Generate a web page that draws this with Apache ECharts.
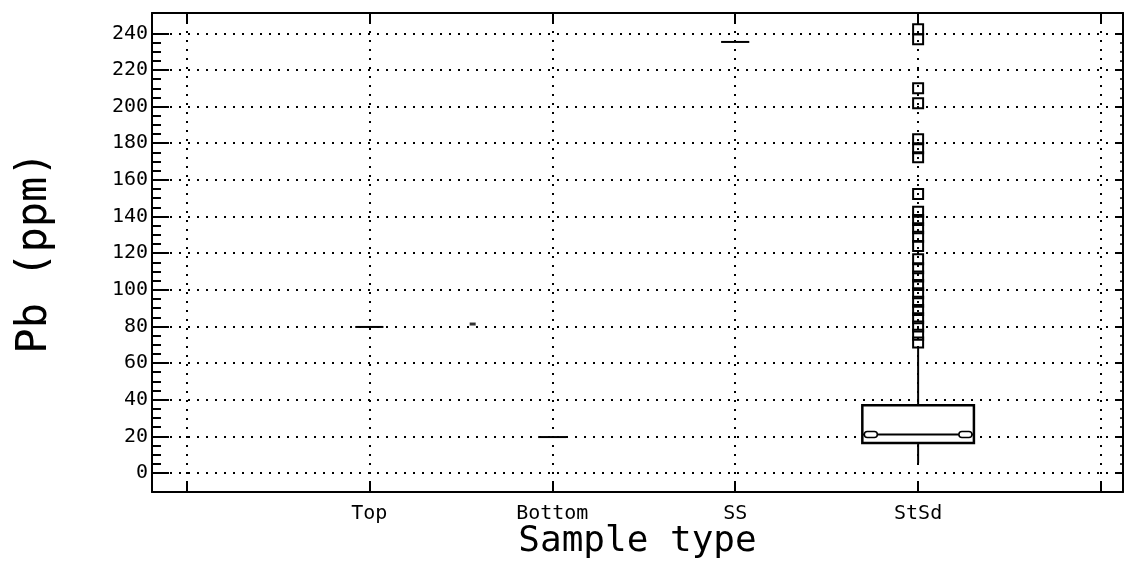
<!DOCTYPE html>
<html>
<head>
<meta charset="utf-8">
<script src="https://cdn.jsdelivr.net/npm/echarts@6/dist/echarts.min.js"></script>
<style>html,body{margin:0;padding:0;background:#fff}#c{width:1127px;height:564px}</style>
</head>
<body>
<div id="c"></div>
<script>
// ---- data ----
const categories = ['Top', 'Bottom', 'SS', 'StSd'];
// categories with a single value (drawn as a short median line)
const singleCategories = ['Top', 'Bottom', 'SS'];
const singleValues = [79.7, 19.6, 235.3];
// StSd box: lower whisker, Q1, median, Q3, upper whisker
const stsdStats = [5.4, 16.3, 21.0, 37.0, 68.5];
// StSd outliers
const stsdOutliers = [71.2, 75.4, 80.0, 84.5, 89.0, 93.5, 98.1, 102.6, 107.2, 111.7, 116.6,
  123.9, 129.0, 133.6, 138.1, 142.6, 152.3, 172.4, 177.3, 182.2, 201.8, 210.0, 236.8, 242.2];
// small stray mark between Top and Bottom
const strayMarks = [[1.565, 81.3]];
// axis ticks
const yTickLabels = [0, 20, 40, 60, 80, 100, 120, 140, 160, 180, 200, 220, 240];
const xTickPositions = [0, 1, 2, 3, 4, 5];

const yMinor = [];
for (let v = 0; v <= 240; v += 5) yMinor.push(v);
const catX = name => categories.indexOf(name) + 1;

const FONT = 'DejaVu Sans Mono';
const dotted = { color: '#000', width: 2, type: [2, 7] };
const yMin = -10.4, yMax = 251.1, xMin = -0.188, xMax = 5.12;

const chart = echarts.init(document.getElementById('c'), null, { renderer: 'canvas' });
chart.setOption({
  backgroundColor: '#fff',
  animation: false,
  grid: { left: 152, right: 4, top: 13, bottom: 72, show: false, containLabel: false, outerBoundsMode: 'none' },
  xAxis: [
    {
      type: 'value', position: 'bottom', min: xMin, max: xMax,
      axisLine: { show: true, onZero: false, lineStyle: { color: '#000', width: 2 } },
      axisTick: { show: true, inside: true, length: 10, customValues: xTickPositions, lineStyle: { color: '#000', width: 2 } },
      axisLabel: {
        show: true, customValues: categories.map((c, i) => i + 1), margin: 12,
        color: '#000', fontFamily: FONT, fontSize: 20,
        formatter: v => categories[Math.round(v) - 1] || ''
      },
      splitLine: { show: true, lineStyle: dotted },
      name: 'Sample type', nameLocation: 'middle', nameGap: 32, nameMoveOverlap: false,
      nameTextStyle: { color: '#000', fontFamily: FONT, fontSize: 36 }
    },
    {
      type: 'value', position: 'top', min: xMin, max: xMax,
      axisLine: { show: true, onZero: false, lineStyle: { color: '#000', width: 2 } },
      axisTick: { show: true, inside: true, length: 9, customValues: xTickPositions, lineStyle: { color: '#000', width: 2 } },
      axisLabel: { show: false }, splitLine: { show: false }
    }
  ],
  yAxis: [
    {
      type: 'value', position: 'left', min: yMin, max: yMax,
      axisLine: { show: true, onZero: false, lineStyle: { color: '#000', width: 2 } },
      axisTick: { show: true, inside: true, length: 17, customValues: yTickLabels, lineStyle: { color: '#000', width: 2 } },
      axisLabel: { show: true, customValues: yTickLabels, margin: 4, color: '#000', fontFamily: FONT, fontSize: 20 },
      splitLine: { show: true, lineStyle: dotted },
      name: 'Pb (ppm)', nameLocation: 'middle', nameGap: 96, nameRotate: 90, nameMoveOverlap: false,
      nameTextStyle: { color: '#000', fontFamily: FONT, fontSize: 42 }
    },
    {
      type: 'value', position: 'left', min: yMin, max: yMax,
      axisLine: { show: false, onZero: false },
      axisTick: { show: true, inside: true, length: 9, customValues: yMinor, lineStyle: { color: '#000', width: 2 } },
      axisLabel: { show: false }, splitLine: { show: false }
    },
    {
      type: 'value', position: 'right', min: yMin, max: yMax,
      axisLine: { show: true, onZero: false, lineStyle: { color: '#000', width: 2 } },
      axisTick: { show: true, inside: true, length: 7, customValues: yTickLabels, lineStyle: { color: '#000', width: 2 } },
      axisLabel: { show: false }, splitLine: { show: false }
    },
    {
      type: 'value', position: 'right', min: yMin, max: yMax,
      axisLine: { show: false, onZero: false },
      axisTick: { show: true, inside: true, length: 3, customValues: yMinor, lineStyle: { color: '#000', width: 1.5 } },
      axisLabel: { show: false }, splitLine: { show: false }
    }
  ],
  series: [
    {
      type: 'custom', name: 'single', xAxisIndex: 0, yAxisIndex: 0,
      data: singleCategories.map((c, i) => [catX(c), singleValues[i]]),
      renderItem: function (params, api) {
        const x = api.value(0), v = api.value(1);
        const band = api.size([1, 0])[0];
        const half = band * 0.077;
        const p = api.coord([x, v]);
        return {
          type: 'line',
          shape: { x1: p[0] - half, y1: p[1], x2: p[0] + half, y2: p[1] },
          style: { stroke: '#000', lineWidth: 2 }
        };
      }
    },
    {
      type: 'custom', name: 'box', xAxisIndex: 0, yAxisIndex: 0,
      data: [[catX('StSd')].concat(stsdStats)],
      renderItem: function (params, api) {
        const x = api.value(0);
        const band = api.size([1, 0])[0];
        const half = band * 0.305;
        const pLow = api.coord([x, api.value(1)]);
        const pQ1 = api.coord([x, api.value(2)]);
        const pMed = api.coord([x, api.value(3)]);
        const pQ3 = api.coord([x, api.value(4)]);
        const pHigh = api.coord([x, api.value(5)]);
        const cx = pMed[0];
        const st = { stroke: '#000', lineWidth: 2, fill: null };
        const capW = 13, capH = 6;
        return {
          type: 'group',
          children: [
            { type: 'line', shape: { x1: cx, y1: pLow[1], x2: cx, y2: pQ1[1] }, style: st },
            { type: 'line', shape: { x1: cx, y1: pQ3[1], x2: cx, y2: pHigh[1] }, style: st },
            { type: 'rect', shape: { x: cx - half, y: pQ3[1], width: 2 * half, height: pQ1[1] - pQ3[1] },
              style: { stroke: '#000', lineWidth: 2.5, fill: '#fff' } },
            { type: 'line', shape: { x1: cx - half, y1: pMed[1], x2: cx + half, y2: pMed[1] }, style: st },
            { type: 'rect', shape: { x: cx - half + 2, y: pMed[1] - capH / 2, width: capW, height: capH, r: capH / 2 },
              style: { stroke: '#000', lineWidth: 1.5, fill: '#fff' } },
            { type: 'rect', shape: { x: cx + half - 2 - capW, y: pMed[1] - capH / 2, width: capW, height: capH, r: capH / 2 },
              style: { stroke: '#000', lineWidth: 1.5, fill: '#fff' } }
          ]
        };
      }
    },
    {
      type: 'scatter', name: 'outliers', xAxisIndex: 0, yAxisIndex: 0,
      data: stsdOutliers.map(v => [catX('StSd'), v]),
      symbol: 'rect', symbolSize: 10,
      itemStyle: { color: 'rgba(255,255,255,0)', borderColor: '#000', borderWidth: 2, opacity: 1 }
    },
    {
      type: 'scatter', name: 'stray', xAxisIndex: 0, yAxisIndex: 0,
      data: strayMarks, symbol: 'rect', symbolSize: [6, 3],
      itemStyle: { color: '#000' }
    }
  ]
});
</script>
</body>
</html>
